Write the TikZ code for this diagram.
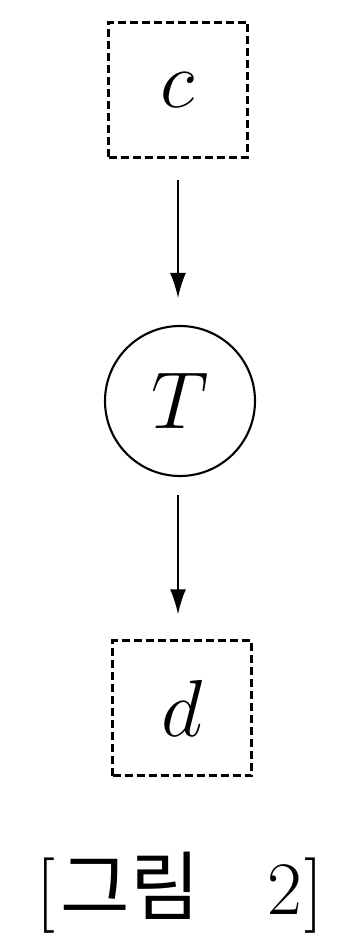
\documentclass[tikz,border=0pt]{standalone}
\usepackage{fix-cm}
\usepackage{fontspec}
\newfontfamily\krfont{Noto Sans CJK KR}
\usetikzlibrary{arrows.meta}
\begin{document}
\begin{tikzpicture}[font=\fontsize{46}{50}\selectfont,
    sigbox/.style={draw, line width=1.4pt, dash pattern=on 1.6mm off 0.8mm, minimum width=2.78cm, minimum height=2.7cm, inner sep=0pt},
    sysnode/.style={draw, circle, line width=1.2pt, minimum size=3.0cm, inner sep=0pt},
    flow/.style={-{Latex[length=5mm, width=3.2mm]}, line width=1pt}]
  \useasboundingbox (0,0) rectangle (6.98,-18.92);
  \node[sigbox] (c) at (3.56,-1.80) {$c$};
  \node[sysnode] (T) at (3.60,-8.02) {$T$};
  \node[sigbox] (d) at (3.64,-14.16) {$d$};
  \draw[flow, shorten <=0.42cm, shorten >=0.54cm] (c) -- (c.south |- T.north);
  \draw[flow, shorten <=0.36cm, shorten >=0.5cm] (T.south -| c.south) -- (c.south |- d.north);
  \node[font=\fontsize{43}{47}\selectfont] (cap) at (3.6,-17.86) {[\hspace{1mm}{\krfont 그림}\hspace{1.35cm}2\hspace{0.5mm}]};
\end{tikzpicture}
\end{document}
